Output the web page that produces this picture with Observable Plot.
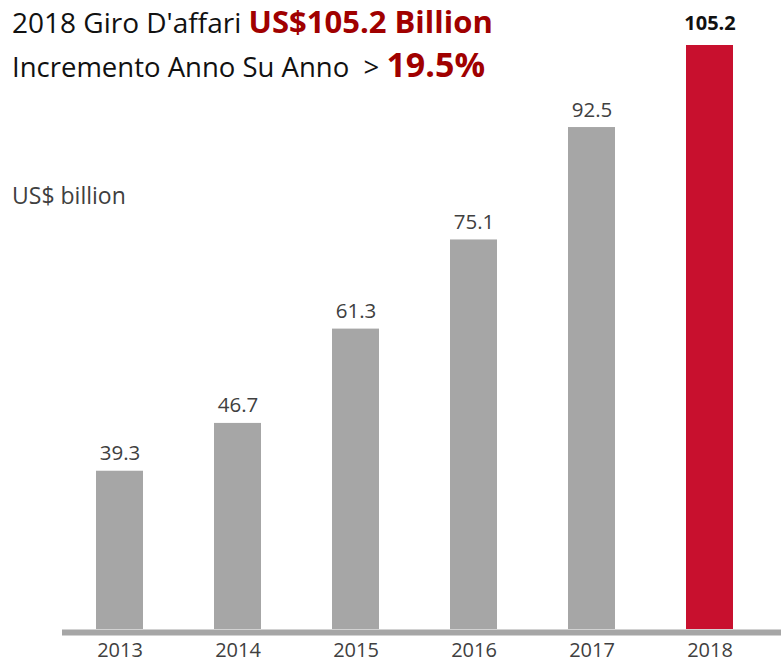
<!DOCTYPE html>
<html>
<head>
<meta charset="utf-8">
<script src="https://cdn.jsdelivr.net/npm/d3@7"></script>
<script src="https://cdn.jsdelivr.net/npm/@observablehq/plot@0.6"></script>
<style>
  html, body { margin: 0; padding: 0; background: #fff; }
  #wrap { position: relative; width: 781px; height: 664px; overflow: hidden; font-family: "Open Sans", sans-serif; }
  #chart { position: absolute; left: 0; top: 0; }
  .line { position: absolute; left: 12px; white-space: nowrap; line-height: 1.4; }
  .red { color: #A00000; font-weight: bold; }
</style>
</head>
<body>
<div id="wrap">
  <div id="chart"></div>
  <div class="line" id="l1" style="top:0px;font-size:28px;color:#111;">2018 Giro D'affari <span class="red" style="font-size:31px;">US$105.2 Billion</span></div>
  <div class="line" id="l2" style="top:42px;font-size:27.5px;color:#111;line-height:1;padding-top:5px;">Incremento Anno Su Anno&nbsp; &gt; <span class="red" style="font-size:34px;">19.5%</span></div>
  <div class="line" id="unit" style="top:179px;font-size:23px;color:#404040;">US$ billion</div>
</div>
<script>
const years = ["2013", "2014", "2015", "2016", "2017", "2018"];
const revenue = [39.3, 46.7, 61.3, 75.1, 92.5, 105.2];
const highlight = ["2018"];

const data = years.map((y, i) => ({year: y, value: revenue[i], hl: highlight.includes(y)}));

const chart = Plot.plot({
  width: 781,
  height: 664,
  marginLeft: 62,
  marginRight: 0,
  marginTop: 45,
  marginBottom: 35,
  style: {fontFamily: "Open Sans, sans-serif", background: "white"},
  x: {domain: years, paddingInner: 0.604, paddingOuter: 0.333, align: 0.41, label: null},
  y: {domain: [14.8, 105.2], clamp: true, axis: null},
  marks: [
    Plot.barY(data, {x: "year", y: "value", fill: d => d.hl ? "#C8102E" : "#A6A6A6"}),
    Plot.ruleY([14.8], {stroke: "#A6A6A6", strokeWidth: 6, dy: 3}),
    Plot.text(data.filter(d => !d.hl), {x: "year", y: "value", text: d => d.value.toFixed(1), lineAnchor: "bottom", dy: -11, fontSize: 20.5, fill: "#404040"}),
    Plot.text(data.filter(d => d.hl), {x: "year", y: "value", text: d => d.value.toFixed(1), lineAnchor: "bottom", dy: -16, fontSize: 20, fontWeight: "bold", fill: "#111"}),
    Plot.axisX({tickSize: 0, tickPadding: 13, fontSize: 20, color: "#404040", label: null})
  ]
});
document.getElementById("chart").appendChild(chart);
</script>
</body>
</html>
